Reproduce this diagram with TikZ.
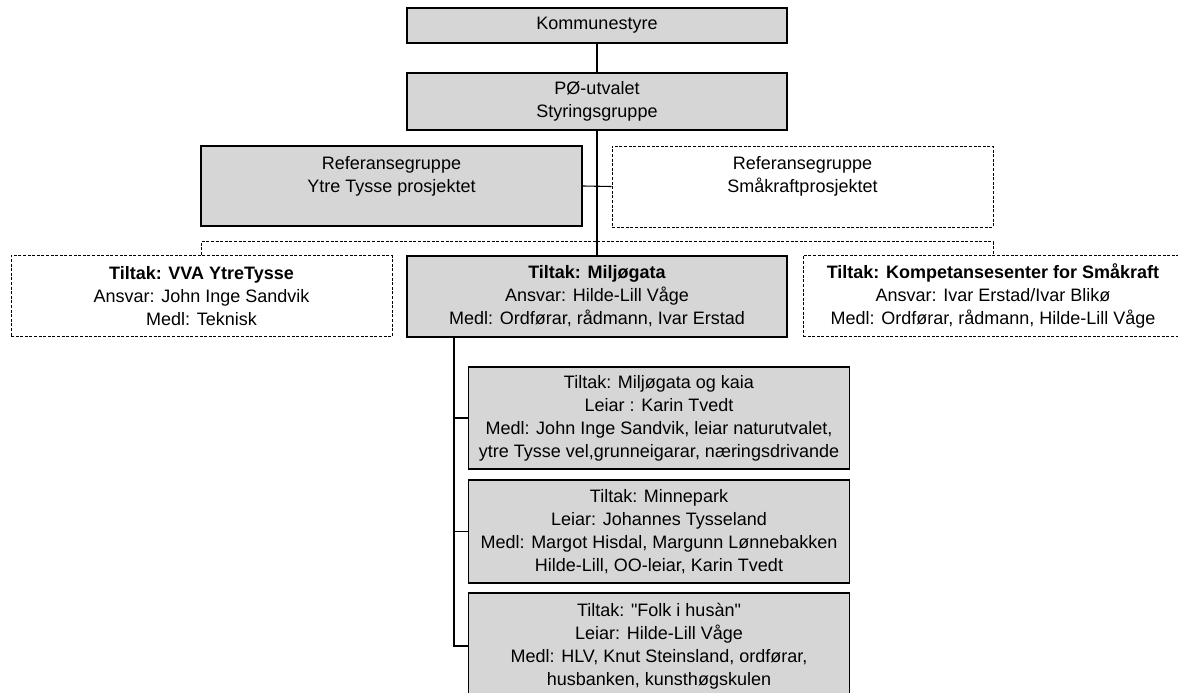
\documentclass[tikz,border=0pt]{standalone}
\usepackage{fontspec}
\setmainfont{Liberation Sans}[Ligatures=TeXOff]
\definecolor{boxgray}{RGB}{214,214,214}
\begin{document}
\begin{tikzpicture}[x=1pt,y=-1pt,
  txt/.style={font=\fontsize{18}{23}\selectfont, align=center, inner sep=0pt},
  graybox/.style={txt, draw=black, line width=1.2pt, fill=boxgray},
  dashbox/.style={txt, draw=black, line width=0.9pt, dash pattern=on 3pt off 1.6pt, fill=white},
  conn/.style={draw=black, line width=1.1pt},
  dconn/.style={draw=black, line width=0.9pt, dash pattern=on 3pt off 1.6pt}]
\useasboundingbox[fill=white] (0,0) rectangle (1178,693);

\coordinate (trunkx) at (454,0);

\node[graybox, minimum width=380, minimum height=35] (kom) at (597,25.5) {Kommunestyre};
\node[graybox, minimum width=380, minimum height=57] (po) at (597,101.5) {PØ-utvalet\\Styringsgruppe};

\node[graybox, minimum width=381, minimum height=80] (ref1) at (391.5,186) {};
\node[txt] (ref1t) at (391.5,176) {Referansegruppe\\Ytre Tysse prosjektet};
\node[dashbox, minimum width=381, minimum height=81] (ref2) at (802.5,186.5) {};
\node[txt] (ref2t) at (802.5,176) {Referansegruppe\\Småkraftprosjektet};

\node[dashbox, minimum width=381, minimum height=81] (vva) at (201.5,296) {\textbf{Tiltak: VVA YtreTysse}\\Ansvar: John Inge Sandvik\\Medl: Teknisk};
\node[graybox, minimum width=380, minimum height=81] (milj) at (597,296.5) {\textbf{Tiltak: Miljøgata}\\Ansvar: Hilde-Lill Våge\\Medl: Ordførar, rådmann, Ivar Erstad};
\node[dashbox, minimum width=380, minimum height=81] (komp) at (993,296) {\textbf{Tiltak: Kompetansesenter for Småkraft}\\Ansvar: Ivar Erstad/Ivar Blikø\\Medl: Ordførar, rådmann, Hilde-Lill Våge};

\node[graybox, minimum width=381, minimum height=102] (sub1) at (659,418) {Tiltak: Miljøgata og kaia\\Leiar : Karin Tvedt\\Medl: John Inge Sandvik, leiar naturutvalet,\\ytre Tysse vel,grunneigarar, næringsdrivande};
\node[graybox, minimum width=381, minimum height=103] (sub2) at (659,531.5) {Tiltak: Minnepark\\Leiar: Johannes Tysseland\\Medl: Margot Hisdal, Margunn Lønnebakken\\Hilde-Lill, OO-leiar, Karin Tvedt};
\node[graybox, minimum width=381, minimum height=106] (sub3) at (659,646) {Tiltak: "Folk i husàn"\\Leiar: Hilde-Lill Våge\\Medl: HLV, Knut Steinsland, ordførar,\\husbanken, kunsthøgskulen};

\draw[conn] (kom.south) -- (po.north);
\draw[conn] (po.south) -- (milj.north);
\draw[conn] (ref1.east) -- (ref2.west);
\draw[dconn] (vva.north) -- ++(0,-13.5) -| (komp.north);
\draw[conn] (milj.south -| trunkx) -- (sub3.west -| trunkx) -- (sub3.west);
\draw[conn] (sub1.west -| trunkx) -- (sub1.west);
\draw[conn] (sub2.west -| trunkx) -- (sub2.west);
\end{tikzpicture}
\end{document}
